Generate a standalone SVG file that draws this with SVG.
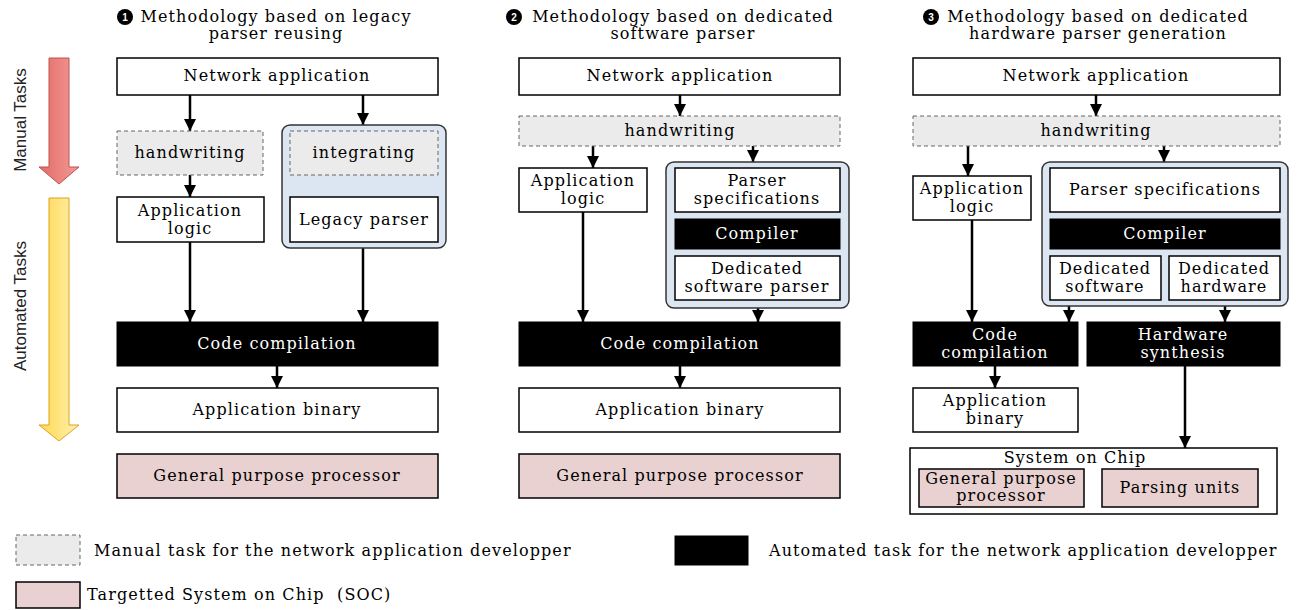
<svg xmlns="http://www.w3.org/2000/svg" width="1298" height="610" viewBox="0 0 1298 610">
<defs>
<marker id="ah" viewBox="0 0 12 12" refX="12" refY="6" markerWidth="12" markerHeight="13" markerUnits="userSpaceOnUse" orient="auto"><path d="M0,0 L12,6 L0,12 z" fill="#000"/></marker>
<linearGradient id="gRed" x1="0" y1="0" x2="1" y2="0"><stop offset="0" stop-color="#e46b66"/><stop offset="1" stop-color="#f29a97"/></linearGradient>
<linearGradient id="gYel" x1="0" y1="0" x2="1" y2="0"><stop offset="0" stop-color="#ffd84f"/><stop offset="1" stop-color="#fff0b0"/></linearGradient>
<style>
.b{fill:#fff;stroke:#000;stroke-width:1.5}
.d{fill:#ebebeb;stroke:#666;stroke-width:1;stroke-dasharray:4 3}
.k{fill:#000;stroke:#000;stroke-width:1}
.p{fill:#e8d1d0;stroke:#000;stroke-width:1.5}
.c{fill:#dce6f2;stroke:#333;stroke-width:1.5}
text{font-family:"DejaVu Serif","Liberation Serif",serif;font-size:16px;letter-spacing:1.1px;fill:#000;text-anchor:middle}
.w{fill:#fff}
.t{font-size:16px;letter-spacing:1.1px}
.s{font-family:"Liberation Sans",Arial,sans-serif;font-size:17px;letter-spacing:0;fill:#222}
.l{text-anchor:start}
.n{font-family:"Liberation Sans",Arial,sans-serif;font-size:10px;letter-spacing:0;font-weight:bold;fill:#fff}
.e{fill:none;stroke:#000;stroke-width:2.5;marker-end:url(#ah)}
</style>
</defs>
<g id="side">
<path d="M49,58 H69 V167 H79 L59,184 L39,167 H49 Z" fill="url(#gRed)" stroke="#b85450" stroke-width="1"/>
<text class="s" transform="translate(26,120) rotate(-90)">Manual Tasks</text>
<path d="M49,198 H69 V425 H79 L59,441 L39,425 H49 Z" fill="url(#gYel)" stroke="#e0a020" stroke-width="1"/>
<text class="s" transform="translate(26,306) rotate(-90)">Automated Tasks</text>
</g>
<g id="titles">
<circle cx="125" cy="17" r="8" fill="#000"/><text class="n" x="125" y="20.5">1</text>
<text class="t" x="276" y="22">Methodology based on legacy</text>
<text class="t" x="276" y="39">parser reusing</text>
<circle cx="514" cy="17" r="8" fill="#000"/><text class="n" x="514" y="20.5">2</text>
<text class="t" x="683" y="22">Methodology based on dedicated</text>
<text class="t" x="683" y="39">software parser</text>
<circle cx="931" cy="17" r="8" fill="#000"/><text class="n" x="931" y="20.5">3</text>
<text class="t" x="1098" y="22">Methodology based on dedicated</text>
<text class="t" x="1098" y="39">hardware parser generation</text>
</g>
<g id="connectors">
<line class="e" x1="190" y1="95" x2="190" y2="131"/>
<line class="e" x1="363" y1="95" x2="363" y2="125"/>
<line class="e" x1="190" y1="175" x2="190" y2="197"/>
<line class="e" x1="363" y1="175" x2="363" y2="197"/>
<line class="e" x1="190" y1="242" x2="190" y2="322"/>
<line class="e" x1="363" y1="248" x2="363" y2="322"/>
<line class="e" x1="277" y1="366" x2="277" y2="388"/>
<line class="e" x1="680" y1="95" x2="680" y2="116"/>
<line class="e" x1="593" y1="146" x2="593" y2="168"/>
<line class="e" x1="753" y1="146" x2="753" y2="162"/>
<line class="e" x1="583" y1="212" x2="583" y2="322"/>
<line class="e" x1="758" y1="300" x2="758" y2="322"/>
<line class="e" x1="680" y1="366" x2="680" y2="388"/>
<line class="e" x1="1096" y1="95" x2="1096" y2="116"/>
<line class="e" x1="968" y1="146" x2="968" y2="176"/>
<line class="e" x1="1164" y1="146" x2="1164" y2="162"/>
<line class="e" x1="972" y1="220" x2="972" y2="322"/>
<line class="e" x1="1069" y1="300" x2="1069" y2="322"/>
<line class="e" x1="1225" y1="300" x2="1225" y2="322"/>
<line class="e" x1="995" y1="366" x2="995" y2="388"/>
<line class="e" x1="1185" y1="366" x2="1185" y2="448"/>
</g>
<g id="c1-net"><rect class="b" x="117" y="58" width="321" height="37"/><text x="277" y="81">Network application</text></g>
<g id="c1-hand"><rect class="d" x="117" y="131" width="146" height="44"/><text x="190" y="158">handwriting</text></g>
<g id="c1-cont"><rect class="c" x="282" y="125" width="164" height="123" rx="8"/></g>
<g id="c1-integ"><rect class="d" x="290" y="131" width="148" height="44"/><text x="364" y="158">integrating</text></g>
<g id="c1-logic"><rect class="b" x="117" y="197" width="147" height="45"/><text x="190" y="216">Application</text><text x="190" y="234">logic</text></g>
<g id="c1-legacy"><rect class="b" x="290" y="197" width="148" height="45"/><text x="364" y="225">Legacy parser</text></g>
<g id="c1-comp"><rect class="k" x="117" y="322" width="321" height="44"/><text class="w" x="277" y="349">Code compilation</text></g>
<g id="c1-bin"><rect class="b" x="117" y="388" width="321" height="44"/><text x="277" y="415">Application binary</text></g>
<g id="c1-gpp"><rect class="p" x="117" y="454" width="321" height="44"/><text x="277" y="481">General purpose processor</text></g>

<g id="c2-net"><rect class="b" x="519" y="58" width="321" height="37"/><text x="680" y="81">Network application</text></g>
<g id="c2-hand"><rect class="d" x="519" y="116" width="321" height="30"/><text x="680" y="136">handwriting</text></g>
<g id="c2-logic"><rect class="b" x="519" y="168" width="128" height="44"/><text x="583" y="186">Application</text><text x="583" y="204">logic</text></g>
<g id="c2-cont"><rect class="c" x="666" y="162" width="183" height="146" rx="8"/></g>
<g id="c2-spec"><rect class="b" x="675" y="168" width="165" height="44"/><text x="757" y="186">Parser</text><text x="757" y="204">specifications</text></g>
<g id="c2-compiler"><rect class="k" x="675" y="219" width="165" height="30"/><text class="w" x="757" y="239">Compiler</text></g>
<g id="c2-ded"><rect class="b" x="675" y="256" width="165" height="44"/><text x="757" y="274">Dedicated</text><text x="757" y="292">software parser</text></g>
<g id="c2-comp"><rect class="k" x="519" y="322" width="321" height="44"/><text class="w" x="680" y="349">Code compilation</text></g>
<g id="c2-bin"><rect class="b" x="519" y="388" width="321" height="44"/><text x="680" y="415">Application binary</text></g>
<g id="c2-gpp"><rect class="p" x="519" y="454" width="321" height="44"/><text x="680" y="481">General purpose processor</text></g>

<g id="c3-net"><rect class="b" x="913" y="58" width="367" height="37"/><text x="1096" y="81">Network application</text></g>
<g id="c3-hand"><rect class="d" x="913" y="116" width="367" height="30"/><text x="1096" y="136">handwriting</text></g>
<g id="c3-logic"><rect class="b" x="913" y="176" width="118" height="44"/><text x="972" y="194">Application</text><text x="972" y="212">logic</text></g>
<g id="c3-cont"><rect class="c" x="1042" y="162" width="246" height="144" rx="8"/></g>
<g id="c3-spec"><rect class="b" x="1050" y="168" width="230" height="44"/><text x="1165" y="195">Parser specifications</text></g>
<g id="c3-compiler"><rect class="k" x="1050" y="219" width="230" height="30"/><text class="w" x="1165" y="239">Compiler</text></g>
<g id="c3-dsw"><rect class="b" x="1050" y="256" width="111" height="44"/><text x="1105" y="274">Dedicated</text><text x="1105" y="292">software</text></g>
<g id="c3-dhw"><rect class="b" x="1169" y="256" width="111" height="44"/><text x="1224" y="274">Dedicated</text><text x="1224" y="292">hardware</text></g>
<g id="c3-comp"><rect class="k" x="913" y="322" width="165" height="44"/><text class="w" x="995" y="340">Code</text><text class="w" x="995" y="358">compilation</text></g>
<g id="c3-hws"><rect class="k" x="1087" y="322" width="193" height="44"/><text class="w" x="1183" y="340">Hardware</text><text class="w" x="1183" y="358">synthesis</text></g>
<g id="c3-bin"><rect class="b" x="913" y="388" width="165" height="44"/><text x="995" y="406">Application</text><text x="995" y="424">binary</text></g>
<g id="c3-soc"><rect class="b" x="910" y="448" width="367" height="66"/><text x="1075" y="463">System on Chip</text></g>
<g id="c3-gpp"><rect class="p" x="919" y="469" width="165" height="38"/><text x="1001" y="484">General purpose</text><text x="1001" y="501">processor</text></g>
<g id="c3-pu"><rect class="p" x="1102" y="469" width="156" height="38"/><text x="1180" y="493">Parsing units</text></g>

<g id="legend">
<rect class="d" x="16" y="535" width="64" height="30"/>
<text class="l" x="94" y="556">Manual task for the network application developper</text>
<rect class="k" x="675" y="536" width="73" height="29"/>
<text class="l" x="769" y="556">Automated task for the network application developper</text>
<rect class="p" x="16" y="582" width="64" height="26"/>
<text class="l" x="87" y="600">Targetted System on Chip&#160; (SOC)</text>
</g>
</svg>
